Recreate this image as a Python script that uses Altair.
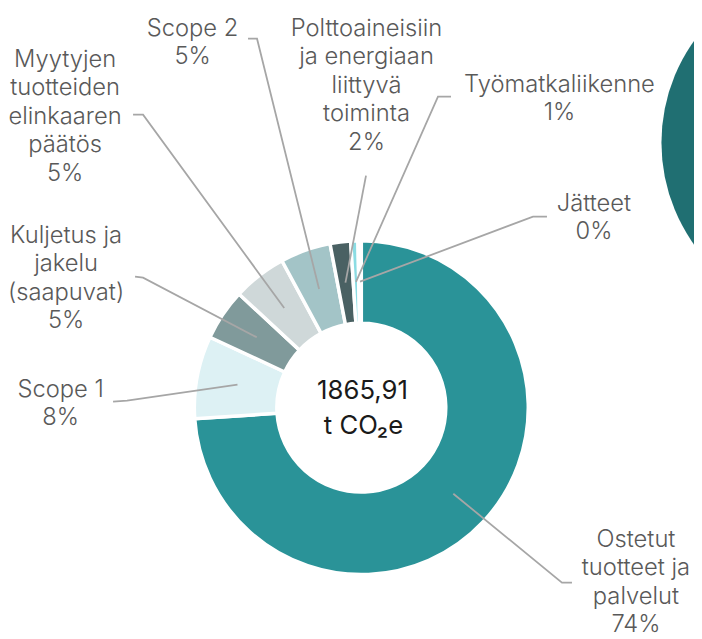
import math
import altair as alt
import pandas as pd

# ---------------- data ----------------
categories = [
    "Ostetut tuotteet ja palvelut",
    "Scope 1",
    "Kuljetus ja jakelu (saapuvat)",
    "Myytyjen tuotteiden elinkaaren päätös",
    "Scope 2",
    "Polttoaineisiin ja energiaan liittyvä toiminta",
    "Työmatkaliikenne",
    "Jätteet",
]
values = [1379, 149, 93, 97, 91, 37, 13, 6]  # t CO2e (estimated)
pct_labels = ["74%", "8%", "5%", "5%", "5%", "2%", "1%", "0%"]
label_lines = [
    ["Ostetut", "tuotteet ja", "palvelut"],
    ["Scope 1"],
    ["Kuljetus ja", "jakelu", "(saapuvat)"],
    ["Myytyjen", "tuotteiden", "elinkaaren", "päätös"],
    ["Scope 2"],
    ["Polttoaineisiin", "ja energiaan", "liittyvä", "toiminta"],
    ["Työmatkaliikenne"],
    ["Jätteet"],
]
total_label = "1865,91"
unit_label = "t CO\u2082e"

# ---------------- styles / layout ----------------
colors = ["#2A9398", "#DDF1F4", "#809A9B", "#CFD8D9", "#A3C4C7",
          "#4A6163", "#8BDCE3", "#5FB8BD"]
LABEL_COLOR = "#595959"
LINE_COLOR = "#A6A6A6"
FONT = "Inter"

W, H = 694, 631
K = 0.9887            # page -> picture scale observed for this page size
S = 1 / K             # size compensation

CX, CY = 361.3, 404.0      # donut centre (picture px)
R_OUT, R_IN = 167 * S, 84.5 * S
R_LEADER = 126

# label anchor: (centre x, first baseline y) in picture px
label_pos = [(636, 543), (60.5, 393), (66, 239), (65, 63),
             (192.5, 32), (366.5, 32), (559.5, 88), (594, 207)]
# leader line label-side points: (elbow, end)
leader_pts = [
    [(562, 579), (572, 579)],
    [(127, 397), (113, 398)],
    [(143, 274), (135, 273)],
    [(143, 111), (133, 111)],
    [(257, 35), (248, 35)],
    [(366, 172)],
    [(438, 93), (451, 93)],
    [(533, 213), (547, 213)],
]


def px(v):  # picture x -> svg x
    return v * S - 8


def py(v):  # picture y -> svg y
    return v * S - 8


xs = alt.Scale(domain=[8 * K, (8 + W) * K], range=[0, W], nice=False, zero=False)
ys = alt.Scale(domain=[8 * K, (8 + H) * K], range=[0, H], nice=False, zero=False)

# ---------------- tables ----------------
df = pd.DataFrame({"category": categories, "value": values,
                   "order": list(range(len(categories)))})

total = sum(values)
rows = []
cum = 0.0
for i, (c, v) in enumerate(zip(categories, values)):
    mid = (cum + v / 2) / total * 2 * math.pi
    cum += v
    sx = CX + R_LEADER * math.sin(mid)
    sy = CY - R_LEADER * math.cos(mid)
    pts = [(sx, sy)] + leader_pts[i]
    for k, (qx, qy) in enumerate(pts):
        rows.append({"category": c, "seq": k, "x": qx, "y": qy})
lines_df = pd.DataFrame(rows)

text_df = pd.DataFrame({
    "category": categories,
    "label": ["\n".join(l + [p]) for l, p in zip(label_lines, pct_labels)],
    "x": [p[0] for p in label_pos],
    "y": [p[1] for p in label_pos],
})

center_df = pd.DataFrame({"t": [total_label, unit_label],
                          "x": [362.5, 363.5], "y": [395, 430]})

# ---------------- marks ----------------
big_circle = alt.Chart(pd.DataFrame({"a": [0]})).mark_arc(
    theta=0, theta2=2 * math.pi, outerRadius=175.5 * S, color="#206F72"
).encode(x=alt.value(px(837)), y=alt.value(py(139)))

donut = alt.Chart(df).mark_arc(
    innerRadius=R_IN, outerRadius=R_OUT, stroke="white", strokeWidth=3.5
).encode(
    theta=alt.Theta("value:Q", stack=True),
    order=alt.Order("order:Q"),
    color=alt.Color("category:N", scale=alt.Scale(domain=categories, range=colors), legend=None),
    x=alt.value(px(CX)), y=alt.value(py(CY)),
)

leaders = alt.Chart(lines_df).mark_line(color=LINE_COLOR, strokeWidth=1.8).encode(
    x=alt.X("x:Q", scale=xs, axis=None),
    y=alt.Y("y:Q", scale=ys, axis=None),
    detail="category:N",
    order="seq:Q",
)

labels = alt.Chart(text_df).mark_text(
    font=FONT, fontSize=24, fontWeight=300, color=LABEL_COLOR, align="center",
    baseline="alphabetic", lineBreak="\n", lineHeight=28.5 * S
).encode(
    x=alt.X("x:Q", scale=xs, axis=None),
    y=alt.Y("y:Q", scale=ys, axis=None),
    text="label:N",
)

center = alt.Chart(center_df).mark_text(
    font=FONT, fontSize=26, color="#1A1A1A", align="center", baseline="alphabetic"
).encode(
    x=alt.X("x:Q", scale=xs, axis=None),
    y=alt.Y("y:Q", scale=ys, axis=None),
    text="t:N",
)

chart = alt.layer(big_circle, donut, leaders, labels, center).properties(
    width=W, height=H, autosize=alt.AutoSizeParams(type="none"), padding=0
).configure_view(stroke=None).resolve_scale(x="shared", y="shared")

chart.save("out.html", embed_options={"renderer": "svg", "actions": False})
